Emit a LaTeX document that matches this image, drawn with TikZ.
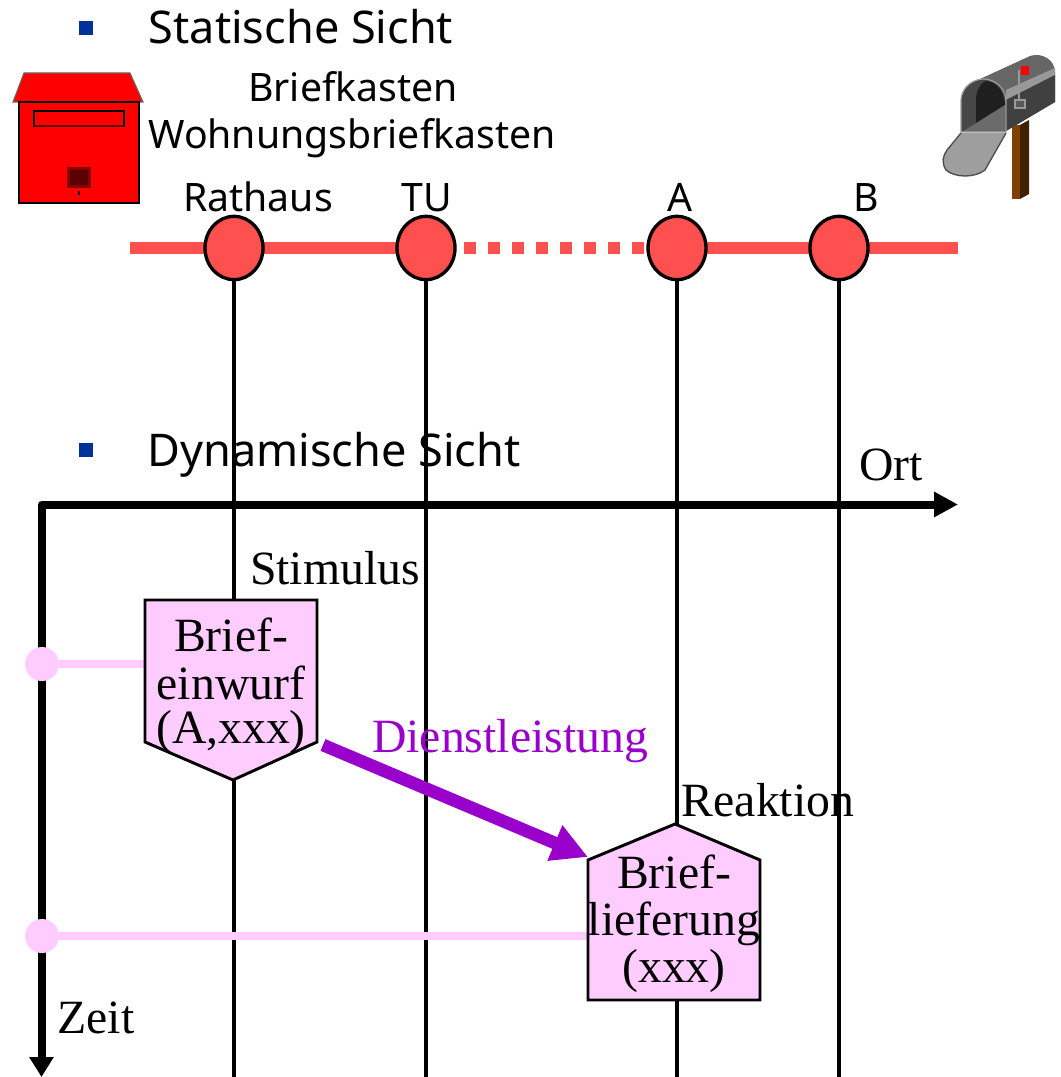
\documentclass[tikz,border=0pt]{standalone}
\usepackage{fontspec}
\setmainfont{Liberation Serif}
\newfontfamily\tah{Noto Sans}
\usetikzlibrary{arrows.meta,shapes.geometric}
\pgfdeclarelayer{lines}
\pgfsetlayers{lines,main}
\definecolor{dotred}{HTML}{FF5050}
\definecolor{pinkfill}{HTML}{FFCCFF}
\definecolor{svcpurple}{HTML}{9900CC}
\definecolor{bulletblue}{HTML}{003399}
\definecolor{dred}{HTML}{5A0000}
\definecolor{postlight}{HTML}{804000}
\definecolor{postdark}{HTML}{402000}
\tikzset{
 every node/.style={inner sep=0pt,outer sep=0pt},
 head/.style={font=\tah\fontsize{33.8pt}{40pt}\selectfont,text=black,anchor=base},
 sans2/.style={font=\tah\fontsize{29.4pt}{35pt}\selectfont,text=black,anchor=base},
 ser/.style={font=\fontsize{35.8pt}{35pt}\selectfont,text=black,anchor=base},
 stopdot/.style={ellipse,draw=black,line width=2.5pt,fill=dotred,minimum width=43.5pt,minimum height=47.5pt},
 vline/.style={line width=3pt,black},
 track/.style={line width=9pt,dotred},
 tdot/.style={circle,fill=pinkfill,minimum size=25.5pt},
 tie/.style={line width=5.5pt,pinkfill},
 bul/.style={rectangle,fill=bulletblue,minimum size=11pt},
 pent/.style={draw=black,line width=2.2pt,fill=pinkfill,line join=miter},
 axis/.style={line width=6pt,line join=round,{Triangle[length=18pt,width=18pt]}-{Triangle[length=15pt,width=17.5pt]}}
}
\begin{document}
\begin{tikzpicture}[x=0.75pt,y=-0.75pt]
\useasboundingbox (0,0) rectangle (1060,1077);
% stops
\node[stopdot] (r) at (234,248) {};
\node[stopdot] (t) at (426,248) {};
\node[stopdot] (a) at (677,248) {};
\node[stopdot] (b) at (839,248) {};
\coordinate (tl) at (130,248);
\coordinate (tr) at (958,248);
\coordinate (rb) at (234,1077);
\coordinate (tb) at (426,1077);
\coordinate (ab) at (677,1077);
\coordinate (bb) at (839,1077);
\begin{pgfonlayer}{lines}
\draw[track] (tl) -- (r);
\draw[track] (r) -- (t);
\draw[track,dash pattern=on 9pt off 9pt,shorten <=6.75pt,shorten >=1.5pt] (t) -- (a);
\draw[track] (a) -- (b);
\draw[track] (b) -- (tr);
\draw[vline] (r) -- (rb);
\draw[vline] (t) -- (tb);
\draw[vline] (a) -- (ab);
\draw[vline] (b) -- (bb);
\end{pgfonlayer}
% axes
\coordinate (o) at (41.5,504.5);
\coordinate (ox) at (958,504.5);
\coordinate (oy) at (41.5,1077);
\draw[axis] (ox) -- (o) -- (oy);
% time dots
\node[tdot] (d1) at (42,664) {};
\node[tdot] (d2) at (42,936) {};
% boxes
\node[minimum width=129pt,minimum height=135pt] (b1) at (231,690) {};
\node[minimum width=129pt,minimum height=105pt] (b2) at (674,930) {};
\draw[tie] (d1) -- (b1.west |- d1);
\draw[tie] (d2) -- (b2.west |- d2);
\draw[pent] (145,600) -- (317,600) -- (317,742) -- (233,780) -- (145,742) -- cycle;
\draw[pent] (588,860) -- (675,824) -- (760,860) -- (760,1000) -- (588,1000) -- cycle;
\node[ser] (l1a) at (231,651) {Brief-};
\node[ser] (l1b) at (231,699) {einwurf};
\node[ser] (l1c) at (231,743) {(A,xxx)};
\node[ser] (l2a) at (674,888) {Brief-};
\node[ser] (l2b) at (674,935) {lieferung};
\node[ser] (l2c) at (674,982) {(xxx)};
% service arrow
\coordinate (s1) at (323,745);
\coordinate (s2) at (588,857);
\draw[svcpurple,line width=9.5pt,-{Triangle[length=27pt,width=27pt]}] (s1) -- (s2);
% texts
\node[bul] (b1x) at (86,28) {};
\node[bul] (b2x) at (86,450) {};
\node[head] (st) at (301,44) {Statische Sicht};
\node[head] (dy) at (334,466) {Dynamische Sicht};
\node[sans2] (bk) at (353,102) {Briefkasten};
\node[sans2] (wb) at (352,148) {Wohnungsbriefkasten};
\node[sans2] (lr) at (258,211) {Rathaus};
\node[sans2] (lt) at (427,211) {TU};
\node[sans2] (la) at (680,211) {A};
\node[sans2] (lb) at (866,211) {B};
\node[ser] (ort) at (891,480) {Ort};
\node[ser] (stim) at (335,584) {Stimulus};
\node[ser,text=svcpurple] (dl) at (510,752) {Dienstleistung};
\node[ser] (re) at (768,816) {Reaktion};
\node[ser] (ze) at (96,1033) {Zeit};
% red letter box
\draw[draw=black!60,line width=.8pt,fill=red] (24,73) -- (130,73) -- (143,102) -- (13,102) -- cycle;
\draw[draw=black,line width=.8pt,fill=red] (19,102) -- (139,102) -- (139,203) -- (19,203) -- cycle;
\draw[draw=black,line width=.8pt,fill=red] (34,111) rectangle (124,126);
\fill[dred] (34,125) rectangle (124,127);
\fill[dred!70!red] (67,167) rectangle (91,188);
\fill[dred] (70,170) rectangle (88,185);
\draw[black,line width=.8pt] (79,191) -- (79,195);
% mailbox
\fill[postlight] (1012,125) -- (1012,199) -- (1020,199) -- (1020,125) -- cycle;
\fill[postdark] (1020,125) -- (1020,199) -- (1029,194) -- (1029,120) -- cycle;
\fill[black!60] (980,79) -- (1030,56) .. controls (1042,52) and (1055,60) .. (1055,72) -- (1055,102) -- (1006,131) -- (1006,97) -- cycle;
\fill[black!40] (1006,90) -- (1055,68) -- (1055,75) -- (1006,100) -- cycle;
\fill[black!75] (1006,100) -- (1055,75) -- (1055,102) -- (1006,131) -- cycle;
\fill[black!72] (961,132) -- (961,100) .. controls (962,85) and (975,79) .. (984,79) .. controls (998,80) and (1006,90) .. (1006,102) -- (1006,132) -- cycle;
\fill[black!88] (976,123) -- (976,98) .. controls (977,88) and (982,82) .. (986,81) .. controls (996,82) and (1004,90) .. (1005,105) -- cycle;
\fill[black!58] (962,132) -- (1005,105) -- (1005,132) -- cycle;
\draw[black!38,line width=.9pt] (961,132) -- (961,100) .. controls (962,85) and (975,79) .. (984,79) .. controls (998,80) and (1006,90) .. (1006,102) -- (1006,132) -- cycle;
\fill[black!38] (961,133) -- (1006,133) -- (985,170) .. controls (975,178) and (955,178) .. (946,170) .. controls (941,162) and (943,156) .. (947,150) -- cycle;
\draw[black!70,line width=1pt] (961,133) -- (947,150) .. controls (943,156) and (941,162) .. (946,170) .. controls (955,178) and (975,178) .. (985,170) -- (1006,133);
\draw[black!40,line width=1.3pt] (1019,70) -- (1019,101);
\fill[red] (1021,66) rectangle (1029,75);
\draw[black!40,line width=.8pt,fill=black!65] (1015,100) rectangle (1025,108);
\end{tikzpicture}
\end{document}
